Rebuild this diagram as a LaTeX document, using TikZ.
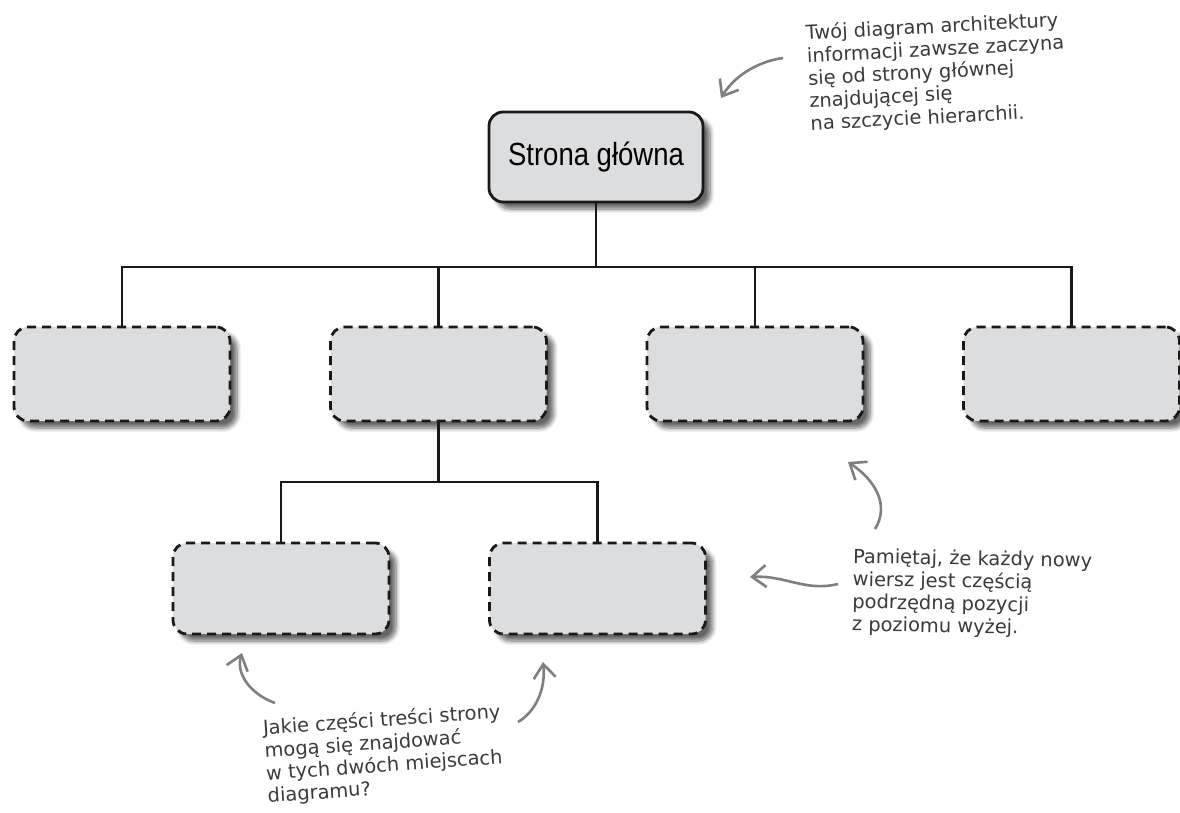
\documentclass[tikz,border=0pt]{standalone}
\usepackage{fontspec}
\setmainfont{DejaVu Sans}
\newfontfamily\boxfont{Liberation Sans}[FakeStretch=0.86]
\usepackage{xcolor}
\usetikzlibrary{positioning, arrows.meta, shadows.blur}

\definecolor{boxgray}{HTML}{DCDDDF}
\definecolor{notegray}{HTML}{7F7F7F}
\definecolor{notetext}{HTML}{3A3A3A}

\begin{document}
\begin{tikzpicture}[
    x=0.5pt, y=-0.5pt,
    node distance=50.25pt,
    rootbox/.style={rectangle, rounded corners=7pt, draw=black!90, line width=1.4pt, fill=boxgray, outer sep=0pt, minimum width=107pt, minimum height=45pt, font=\boxfont\fontsize{16}{18}\selectfont, blur shadow={shadow xshift=3.5pt, shadow yshift=-3.5pt, shadow opacity=60, shadow blur steps=8}},
    pagebox/.style={rectangle, rounded corners=7pt, draw=black!90, line width=1.4pt, dash pattern=on 4.5pt off 3pt, fill=boxgray, outer sep=0pt, minimum width=108pt, minimum height=47pt, blur shadow={shadow xshift=3.5pt, shadow yshift=-3.5pt, shadow opacity=60, shadow blur steps=8}},
    link/.style={draw=black!90, line width=1.1pt},
    note/.style={anchor=north west, align=left, inner sep=0pt, text=notetext, font=\fontsize{9.7}{11.3}\selectfont},
    notearrow/.style={draw=notegray, line width=1.3pt, -{Straight Barb[length=7pt,width=11pt]}}
]
    \useasboundingbox (0,0) rectangle (1180,813);

    % hierarchy
    \node[rootbox] (home) at (596,157) {Strona główna};

    \node[pagebox] (sec2) at (438.5,374) {};
    \node[pagebox, left=of sec2] (sec1) {};
    \node[pagebox, right=of sec2] (sec3) {};
    \node[pagebox, right=of sec3] (sec4) {};

    \node[pagebox, minimum height=45.5pt] (sub1) at (281,588.5) {};
    \node[pagebox, minimum height=45.5pt, right=of sub1] (sub2) {};

    \foreach \s in {sec1,sec2,sec3,sec4}
        \draw[link] (home.south) -- ++(0,65) -| (\s.north);
    \foreach \s in {sub1,sub2}
        \draw[link] (sec2.south) -- ++(0,61) -| (\s.north);

    % notes
    \node[note, rotate=3] (topnote) at (805,24) {Twój diagram architektury\\informacji zawsze zaczyna\\się od strony głównej\\znajdującej się\\na szczycie hierarchii.};
    \node[note, rotate=-1] (rightnote) at (853,548) {Pamiętaj, że każdy nowy\\wiersz jest częścią\\podrzędną pozycji\\z poziomu wyżej.};
    \node[note, rotate=4] (bottomnote) at (262,719) {Jakie części treści strony\\mogą się znajdować\\w tych dwóch miejscach\\diagramu?};

    \coordinate (topfrom) at (783,58);
    \coordinate (topto) at (721,98);
    \coordinate (leftfrom) at (838,584);
    \coordinate (leftto) at (750,577);
    \coordinate (upfrom) at (875,529);
    \coordinate (upto) at (848,462);
    \coordinate (sub1from) at (275,703);
    \coordinate (sub1to) at (242,653);
    \coordinate (sub2from) at (518,722);
    \coordinate (sub2to) at (543,662);

    \draw[notearrow] (topfrom) .. controls (755,62) and (733,78) .. (topto);
    \draw[notearrow] (leftfrom) .. controls (805,592) and (785,575) .. (leftto);
    \draw[notearrow] (upfrom) .. controls (890,505) and (875,480) .. (upto);
    \draw[notearrow] (sub1from) .. controls (248,693) and (236,672) .. (sub1to);
    \draw[notearrow] (sub2from) .. controls (535,712) and (546,690) .. (sub2to);

\end{tikzpicture}
\end{document}
